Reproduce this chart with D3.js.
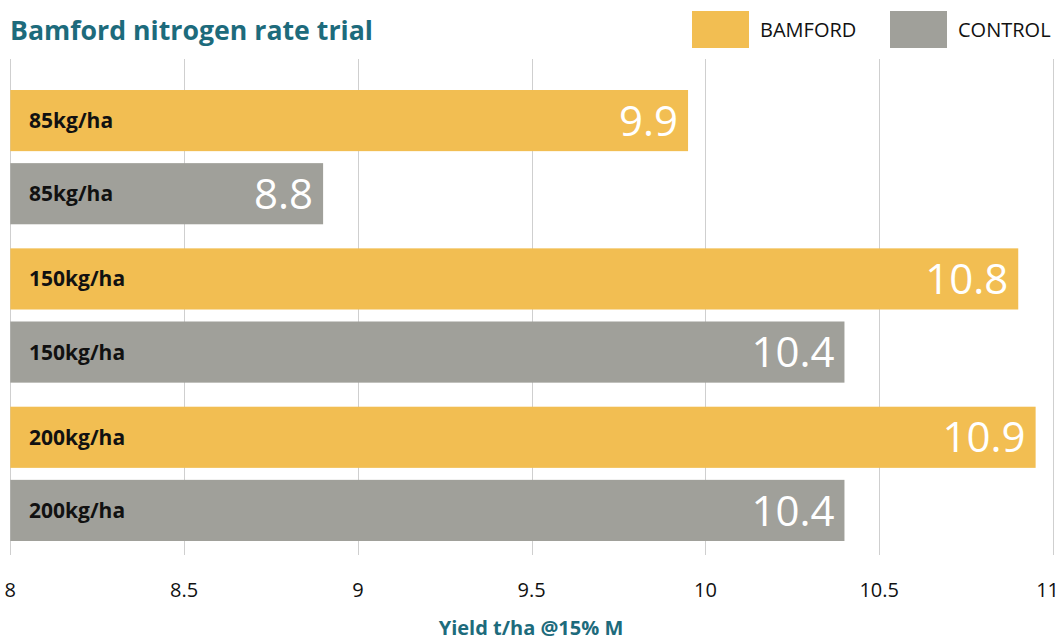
<!DOCTYPE html>
<html>
<head>
<meta charset="utf-8">
<script src="https://cdn.jsdelivr.net/npm/d3@7"></script>
<style>
  body { margin: 0; background: #fff; }
  svg { font-family: "Open Sans", Lato, sans-serif; }
</style>
</head>
<body>
<svg width="1060" height="641"></svg>
<script>
// data
const rates = ["85kg/ha", "150kg/ha", "200kg/ha"];
const series = ["BAMFORD", "CONTROL"];
const bamford = [9.95, 10.9, 10.95];
const control = [8.9, 10.4, 10.4];
const bamfordLabels = ["9.9", "10.8", "10.9"];
const controlLabels = ["8.8", "10.4", "10.4"];
const xTicks = [8, 8.5, 9, 9.5, 10, 10.5, 11];

const colors = { BAMFORD: "#f2be52", CONTROL: "#a0a09a" };
const teal = "#1d6b7c";

const rows = rates.flatMap((r, i) => [
  { rate: r, series: "BAMFORD", value: bamford[i], label: bamfordLabels[i] },
  { rate: r, series: "CONTROL", value: control[i], label: controlLabels[i] },
]);

const svg = d3.select("svg");
const W = 1060;

const x = d3.scaleLinear().domain([8, 11]).range([10.3, 1053]);

const yGroup = d3.scaleBand().domain(rates).range([90, 541]).paddingInner(0.152);
const yInner = d3.scaleBand().domain(series).range([0, yGroup.bandwidth()]).paddingInner(0.164);

// grid
svg.append("g")
  .attr("class", "grid")
  .selectAll("line")
  .data(xTicks)
  .join("line")
  .attr("x1", (d) => Math.round(x(d)) + 0.5)
  .attr("x2", (d) => Math.round(x(d)) + 0.5)
  .attr("y1", 59)
  .attr("y2", 555)
  .attr("stroke", "#cfcfcf")
  .attr("stroke-width", 1);

// bars
const bars = svg.append("g")
  .selectAll(".bar")
  .data(rows)
  .join("g")
  .attr("class", "bar")
  .attr("transform", (d) => `translate(0,${yGroup(d.rate) + yInner(d.series)})`);

bars.append("rect")
  .attr("x", x(8))
  .attr("y", 0)
  .attr("width", (d) => x(d.value) - x(8))
  .attr("height", yInner.bandwidth())
  .attr("fill", (d) => colors[d.series]);

bars.append("text")
  .attr("x", 29)
  .attr("y", yInner.bandwidth() / 2)
  .attr("dy", "0.36em")
  .attr("font-size", 21)
  .attr("font-weight", 700)
  .attr("fill", "#111")
  .text((d) => d.rate);

bars.append("text")
  .attr("x", (d) => x(d.value) - 10)
  .attr("y", yInner.bandwidth() / 2)
  .attr("dy", "0.36em")
  .attr("text-anchor", "end")
  .attr("font-size", 42)
  .attr("font-weight", 400)
  .attr("fill", "#fff")
  .text((d) => d.label);

// x axis labels (last one kept inside the page)
svg.append("g")
  .selectAll("text")
  .data(xTicks)
  .join("text")
  .each(function (d) {
    const t = d3.select(this);
    const px = x(d);
    if (px + 11 > W) {
      t.attr("x", W - 1).attr("text-anchor", "end");
    } else {
      t.attr("x", px).attr("text-anchor", "middle");
    }
  })
  .attr("y", 597)
  .attr("font-size", 20)
  .attr("fill", "#111")
  .text((d) => d);

svg.append("text")
  .attr("x", 531)
  .attr("y", 635)
  .attr("text-anchor", "middle")
  .attr("font-size", 20)
  .attr("font-weight", 700)
  .attr("fill", teal)
  .text("Yield t/ha @15% M");

// title
svg.append("text")
  .attr("x", 10)
  .attr("y", 40)
  .attr("font-size", 26.7)
  .attr("font-weight", 700)
  .attr("fill", teal)
  .text("Bamford nitrogen rate trial");

// legend
const legend = svg.append("g")
  .selectAll("g")
  .data(series)
  .join("g")
  .attr("transform", (d, i) => `translate(${692 + i * 198},11)`);

legend.append("rect")
  .attr("width", 57)
  .attr("height", 37)
  .attr("fill", (d) => colors[d]);

legend.append("text")
  .attr("x", 68)
  .attr("y", 18.5)
  .attr("dy", "0.35em")
  .attr("font-size", 20)
  .attr("fill", "#111")
  .text((d) => d);
</script>
</body>
</html>
